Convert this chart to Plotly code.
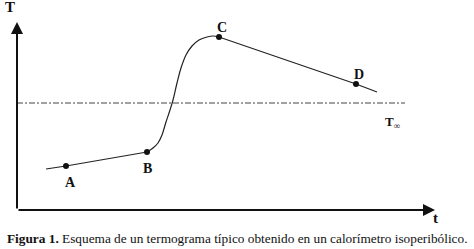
import plotly.graph_objects as go

# curve data (t, T) in arbitrary units
t_curve = [29, 49, 130, 136, 141, 145, 149, 153, 156, 160, 164, 169, 175, 182, 190, 196, 202, 339, 360]
T_curve = [41, 44, 58, 62, 67, 75, 88, 100, 110, 127, 142, 155, 164, 170, 173, 174, 173, 126, 118]

point_labels = ["A", "B", "C", "D"]
point_t = [49, 130, 202, 339]
point_T = [44, 58, 173, 126]

T_inf = 107
T_inf_end = 388
x_max = 418
y_max = 188

fig = go.Figure()

fig.add_trace(go.Scatter(x=t_curve[:3], y=T_curve[:3], mode="lines",
                         line=dict(color="#222", width=1.2), hoverinfo="skip"))
fig.add_trace(go.Scatter(x=t_curve[2:17], y=T_curve[2:17], mode="lines",
                         line=dict(color="#222", width=1.2, shape="spline", smoothing=1.0), hoverinfo="skip"))
fig.add_trace(go.Scatter(x=t_curve[16:], y=T_curve[16:], mode="lines",
                         line=dict(color="#222", width=1.2), hoverinfo="skip"))
fig.add_trace(go.Scatter(x=[0, T_inf_end], y=[T_inf, T_inf], mode="lines",
                         line=dict(color="#444", width=1, dash="6px,2px,2px,2px"), hoverinfo="skip"))
fig.add_trace(go.Scatter(x=point_t, y=point_T, mode="markers",
                         marker=dict(color="#111", size=6), hoverinfo="skip"))

serif = "Liberation Serif, Times New Roman, serif"
offsets = {"A": (4, -16), "B": (0, -16), "C": (3, 10), "D": (3, 10)}
for lab, x, y in zip(point_labels, point_t, point_T):
    dx, dy = offsets[lab]
    fig.add_annotation(x=x, y=y, text=f"<b>{lab}</b>", showarrow=False,
                       xshift=dx, yshift=dy, font=dict(family=serif, size=14, color="#111"))

# axes arrows
fig.add_annotation(x=0, y=y_max, ax=0, ay=0, xref="x", yref="y", axref="x", ayref="y",
                   text="", showarrow=True, arrowhead=2, arrowsize=1.2, arrowwidth=2, arrowcolor="#111")
fig.add_annotation(x=x_max, y=0, ax=0, ay=0, xref="x", yref="y", axref="x", ayref="y",
                   text="", showarrow=True, arrowhead=2, arrowsize=1.2, arrowwidth=2, arrowcolor="#111")

fig.add_annotation(x=0, y=y_max, xref="x", yref="y", text="<b>T</b>", showarrow=False,
                   xshift=-7, yshift=15, font=dict(family=serif, size=15, color="#111"))
fig.add_annotation(x=x_max, y=0, xref="x", yref="y", text="<b>t</b>", showarrow=False,
                   xshift=0, yshift=-8, font=dict(family=serif, size=15, color="#111"))
fig.add_annotation(x=T_inf_end, y=T_inf, xref="x", yref="y",
                   text="<b>T</b><sub>∞</sub>", showarrow=False,
                   xshift=-13, yshift=-19, font=dict(family=serif, size=13, color="#111"))

fig.add_annotation(x=219.5 / 418, y=-28 / 188, xref="paper", yref="paper", yanchor="middle",
                   text="<b>Figura 1.</b> Esquema de un termograma típico obtenido en un calorímetro isoperibólico.",
                   showarrow=False, font=dict(family=serif, size=13.3, color="#111"))

fig.update_layout(
    width=474, height=249,
    margin=dict(l=17, r=39, t=22, b=39, pad=0, autoexpand=False),
    paper_bgcolor="white", plot_bgcolor="white",
    showlegend=False,
    xaxis=dict(range=[0, x_max], visible=False, fixedrange=True),
    yaxis=dict(range=[0, y_max], visible=False, fixedrange=True),
)

fig.write_html("out.html", config={"displayModeBar": False},
               post_script="document.body.style.margin='0';")
